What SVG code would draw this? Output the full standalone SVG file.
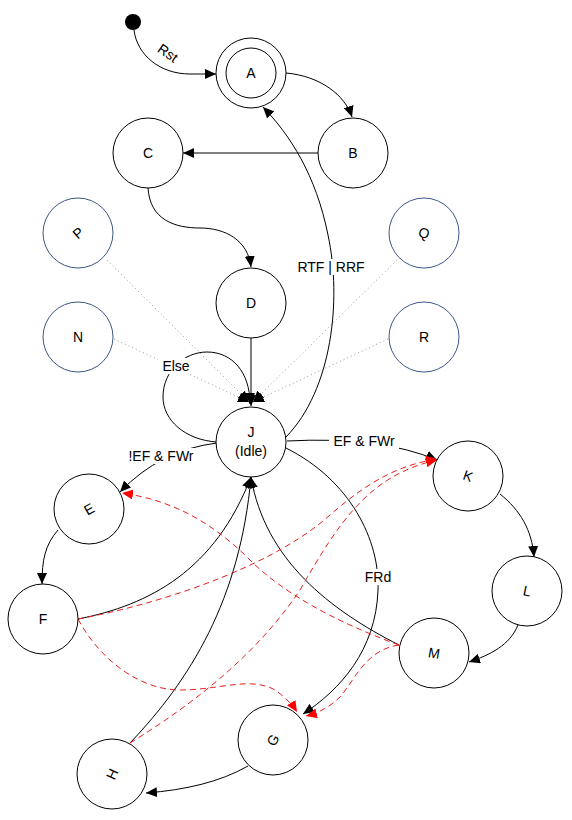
<svg xmlns="http://www.w3.org/2000/svg" width="572" height="820" viewBox="0 0 572 820">
<style>
.n{fill:#fff;stroke:#000;stroke-width:1}
.b{fill:#fff;stroke:#3b5587;stroke-width:1}
.t{font-family:"Liberation Sans",Arial,sans-serif;font-size:14px;fill:#000;text-anchor:middle;dominant-baseline:central}
.e{fill:none;stroke:#000;stroke-width:1}
.r{fill:none;stroke:#e8201e;stroke-width:1;stroke-dasharray:6,4}
.d{fill:none;stroke:#999;stroke-width:1;stroke-dasharray:1,3}
.lb{font-family:"Liberation Sans",Arial,sans-serif;font-size:14px;fill:#000;text-anchor:middle;dominant-baseline:central}
</style>
<defs>
<marker id="ab" markerUnits="userSpaceOnUse" markerWidth="12" markerHeight="10" refX="11" refY="5" orient="auto"><path d="M0,0 L11,5 L0,10 z" fill="#000"/></marker>
<marker id="ar" markerUnits="userSpaceOnUse" markerWidth="12" markerHeight="10" refX="11" refY="5" orient="auto"><path d="M0,0 L11,5 L0,10 z" fill="#ff0000"/></marker>
</defs>
<rect width="572" height="820" fill="#fff"/>
<g id="connectors">
<path class="e" d="M134,30 C137,55 160,74 190,74 L216,74" marker-end="url(#ab)"/>
<text class="lb" transform="translate(168,53) rotate(35)">Rst</text>
<path class="e" d="M286,73 C320,76 345,95 352,117" marker-end="url(#ab)"/>
<path class="e" d="M318,153 L183,153" marker-end="url(#ab)"/>
<path class="e" d="M148,188 C150,220 175,228 200,228 C225,228 248,240 251,267" marker-end="url(#ab)"/>
<path class="d" d="M107,260 L249,402" marker-end="url(#ab)"/>
<path class="d" d="M114,339 L249,402" marker-end="url(#ab)"/>
<path class="d" d="M397,260 L253,402" marker-end="url(#ab)"/>
<path class="d" d="M388,339 L253,402" marker-end="url(#ab)"/>
<path class="e" d="M251,338 L251,406" marker-end="url(#ab)"/>
<path class="e" d="M217,442 C185,440 163,420 163,397 C163,370 185,352 207,352 C232,352 250,372 250,404" marker-end="url(#ab)"/>
<rect x="158" y="358" width="36" height="16" fill="#fff"/>
<text class="lb" x="176" y="366">Else</text>
<path class="e" d="M286,437 C332,390 342,300 328,235 C316,175 290,135 263,107" marker-end="url(#ab)"/>
<rect x="294" y="259" width="74" height="16" fill="#fff"/>
<text class="lb" x="331" y="267">RTF | RRF</text>
<path class="e" d="M287,441 Q380,436 437,460" marker-end="url(#ab)"/>
<rect x="329" y="433" width="70" height="16" fill="#fff"/>
<text class="lb" x="364" y="441">EF &amp; FWr</text>
<path class="e" d="M217,443 Q160,450 120,492" marker-end="url(#ab)"/>
<rect x="124" y="448" width="75" height="16" fill="#fff"/>
<text class="lb" x="161" y="456">!EF &amp; FWr</text>
<path class="e" d="M58,530 C45,545 42,560 42,584" marker-end="url(#ab)"/>
<path class="e" d="M78,619 C150,605 215,570 251,477" marker-end="url(#ab)"/>
<path class="e" d="M130,743 C190,680 240,600 251,477" marker-end="url(#ab)"/>
<path class="e" d="M399,645 C330,610 265,560 251,477" marker-end="url(#ab)"/>
<path class="e" d="M286,448 C350,480 380,540 378,590 C376,650 340,690 303,714" marker-end="url(#ab)"/>
<rect x="363" y="569" width="30" height="16" fill="#fff"/>
<text class="lb" x="378" y="577">FRd</text>
<path class="e" d="M248,766 C220,782 185,790 146,793" marker-end="url(#ab)"/>
<path class="e" d="M500,494 C520,510 532,530 534,557" marker-end="url(#ab)"/>
<path class="e" d="M518,625 C510,645 490,655 469,662" marker-end="url(#ab)"/>
<path class="r" d="M78,619 C180,600 280,560 330,515 C370,480 400,465 437,459" marker-end="url(#ar)"/>
<path class="r" d="M130,743 C200,700 260,650 300,590 C340,520 370,475 437,460" marker-end="url(#ar)"/>
<path class="r" d="M399,645 C330,620 280,590 250,560 C210,520 170,500 122,493" marker-end="url(#ar)"/>
<path class="r" d="M399,645 C365,650 355,680 340,697 C330,707 318,713 306,716" marker-end="url(#ar)"/>
<path class="r" d="M78,619 C100,660 140,690 180,690 C220,690 250,676 275,690 C285,697 292,704 297,712" marker-end="url(#ar)"/>
</g>
<g id="init"><circle cx="133" cy="22" r="8" fill="#000"/></g>
<g id="A"><circle class="n" cx="251" cy="73" r="35"/><circle class="n" cx="251" cy="73" r="25"/><text class="t" x="251" y="73">A</text></g>
<g id="B"><circle class="n" cx="353" cy="153" r="35"/><text class="t" x="353" y="153">B</text></g>
<g id="C"><circle class="n" cx="148" cy="153" r="35"/><text class="t" x="148" y="153">C</text></g>
<g id="D"><circle class="n" cx="251" cy="303" r="35"/><text class="t" x="251" y="303">D</text></g>
<g id="P"><circle class="b" cx="78" cy="233" r="35"/><text class="t" transform="translate(78,233) rotate(-40)">P</text></g>
<g id="Q"><circle class="b" cx="424" cy="233" r="35"/><text class="t" transform="translate(424,233) rotate(20)">Q</text></g>
<g id="N"><circle class="b" cx="78" cy="337" r="35"/><text class="t" x="78" y="337">N</text></g>
<g id="R"><circle class="b" cx="424" cy="337" r="35"/><text class="t" x="424" y="337">R</text></g>
<g id="J"><circle class="n" cx="251" cy="442" r="35"/><text class="t" x="251" y="432">J</text><text class="t" x="251" y="451">(Idle)</text></g>
<g id="E"><circle class="n" cx="89" cy="509" r="35"/><text class="t" transform="translate(89,509) rotate(-30)">E</text></g>
<g id="F"><circle class="n" cx="43" cy="619" r="35"/><text class="t" x="43" y="619">F</text></g>
<g id="K"><circle class="n" cx="468" cy="476" r="35"/><text class="t" transform="translate(468,476) rotate(20)">K</text></g>
<g id="L"><circle class="n" cx="527" cy="591" r="35"/><text class="t" transform="translate(527,591) rotate(12)">L</text></g>
<g id="M"><circle class="n" cx="434" cy="653" r="35"/><text class="t" transform="translate(434,653) rotate(10)">M</text></g>
<g id="G"><circle class="n" cx="273" cy="740" r="35"/><text class="t" transform="translate(273,740) rotate(-60)">G</text></g>
<g id="H"><circle class="n" cx="112" cy="774" r="35"/><text class="t" transform="translate(112,774) rotate(-65)">H</text></g>
</svg>
